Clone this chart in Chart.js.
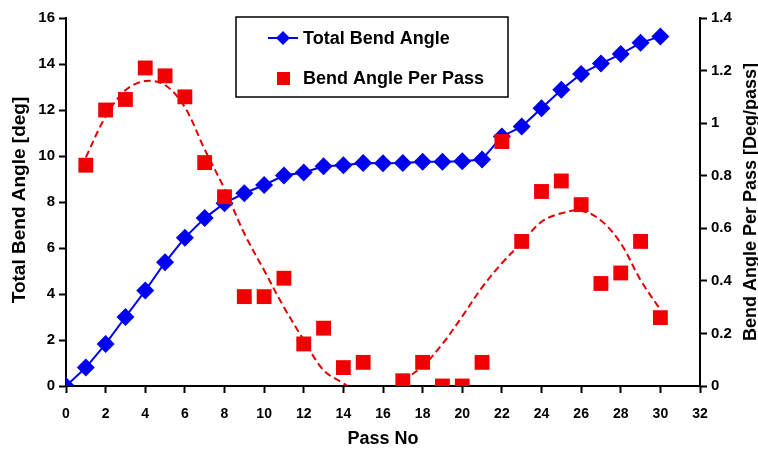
<!DOCTYPE html>
<html>
<head>
<meta charset="utf-8">
<script src="https://cdn.jsdelivr.net/npm/chart.js@4.4.1/dist/chart.umd.min.js"></script>
<style>
  html, body { margin: 0; padding: 0; background: #fff; }
  #wrap { width: 758px; height: 450px; }
</style>
</head>
<body>
<div id="wrap"><canvas id="bendChart" width="758" height="450"></canvas></div>
<script>
// Pass numbers
const passes = [0, 1, 2, 3, 4, 5, 6, 7, 8, 9, 10, 11, 12, 13, 14, 15, 16, 17, 18, 19, 20, 21, 22, 23, 24, 25, 26, 27, 28, 29, 30];
// Total bend angle [deg] (left axis)
const totalBend = [0, 0.8, 1.83, 3.0, 4.15, 5.38, 6.45, 7.3, 7.95, 8.38, 8.74, 9.15, 9.28, 9.55, 9.6, 9.7, 9.68, 9.7, 9.75, 9.75, 9.77, 9.85, 10.85, 11.28, 12.08, 12.88, 13.57, 14.02, 14.43, 14.92, 15.2];

// Bend angle per pass [deg/pass] (right axis)
const perPassX = [1, 2, 3, 4, 5, 6, 7, 8, 9, 10, 11, 12, 13, 14, 15, 17, 18, 19, 20, 21, 22, 23, 24, 25, 26, 27, 28, 29, 30];
const perPass = [0.84, 1.05, 1.09, 1.21, 1.18, 1.10, 0.85, 0.72, 0.34, 0.34, 0.41, 0.16, 0.22, 0.07, 0.09, 0.02, 0.09, 0, 0, 0.09, 0.93, 0.55, 0.74, 0.78, 0.69, 0.39, 0.43, 0.55, 0.26];

// dashed trend of per-pass angle (gap between the two humps)
const trendX = [1, 2, 3, 4, 5, 6, 7, 8, 9, 10, 11, 12, 13, 14, 14.2, 15.5, 17, 18, 19, 20, 21, 22, 23, 24, 25, 26, 27, 28, 29, 30];
const trendY = [0.87, 1.025, 1.125, 1.16, 1.145, 1.06, 0.90, 0.75, 0.58, 0.44, 0.30, 0.175, 0.06, 0.01, 0, null, 0.02, 0.075, 0.16, 0.265, 0.375, 0.467, 0.545, 0.625, 0.657, 0.667, 0.63, 0.543, 0.403, 0.29];

// axis ticks
const xTicks = [0, 2, 4, 6, 8, 10, 12, 14, 16, 18, 20, 22, 24, 26, 28, 30, 32];
const leftTicks = [0, 2, 4, 6, 8, 10, 12, 14, 16];
const rightTicks = [0, 0.2, 0.4, 0.6, 0.8, 1, 1.2, 1.4];

const BLUE = '#0000f0';
const RED = '#f00000';
const FONT = "'Liberation Sans', Arial, sans-serif";

const toPts = (xs, ys) => xs.map((x, i) => ({x: x, y: ys[i]}));

// legend box inside the plot + both vertical axis titles (both read bottom-to-top)
const boxLegend = {
    id: 'boxLegend',
    afterDraw(chart) {
        const c = chart.ctx;
        const area = chart.chartArea;
        const midY = (area.top + area.bottom) / 2;
        c.save();
        c.strokeStyle = '#000';
        c.lineWidth = 1.5;
        c.strokeRect(236, 17, 272, 80);
        // line + diamond
        c.strokeStyle = BLUE;
        c.lineWidth = 2;
        c.beginPath();
        c.moveTo(268, 38);
        c.lineTo(298, 38);
        c.stroke();
        c.fillStyle = BLUE;
        c.beginPath();
        c.moveTo(283, 31); c.lineTo(290, 38); c.lineTo(283, 45); c.lineTo(276, 38);
        c.closePath();
        c.fill();
        // square
        c.fillStyle = RED;
        c.fillRect(277, 72, 13, 13);
        c.fillStyle = '#000';
        c.font = 'bold 18px ' + FONT;
        c.textBaseline = 'middle';
        c.fillText('Total Bend Angle', 303, 39);
        c.fillText('Bend Angle Per Pass', 303, 79);

        // axis titles
        c.textAlign = 'center';
        c.font = 'bold 19px ' + FONT;
        c.save();
        c.translate(20, midY - 2);
        c.rotate(-Math.PI / 2);
        c.fillText('Total Bend Angle [deg]', 0, 0);
        c.restore();
        c.font = 'bold 18px ' + FONT;
        c.save();
        c.translate(751, midY);
        c.rotate(-Math.PI / 2);
        c.fillText('Bend Angle Per Pass [Deg/pass]', 0, 0);
        c.restore();
        c.restore();
    }
};

const ctx = document.getElementById('bendChart').getContext('2d');
new Chart(ctx, {
    type: 'scatter',
    data: {
        datasets: [
            {
                label: 'Bend Angle Per Pass',
                data: toPts(perPassX, perPass),
                yAxisID: 'y2',
                pointStyle: 'rect',
                pointRadius: 10.5,
                backgroundColor: RED,
                borderWidth: 0,
                showLine: false
            },
            {
                label: 'trend',
                data: toPts(trendX, trendY),
                yAxisID: 'y2',
                showLine: true,
                borderColor: '#e00000',
                borderWidth: 2,
                borderDash: [7, 4],
                tension: 0.35,
                pointRadius: 0,
                spanGaps: false
            },
            {
                label: 'Total Bend Angle',
                data: toPts(passes, totalBend),
                yAxisID: 'y',
                showLine: true,
                borderColor: BLUE,
                borderWidth: 2,
                backgroundColor: BLUE,
                pointStyle: 'rectRot',
                pointRadius: 9,
                pointBorderWidth: 0,
                tension: 0
            }
        ]
    },
    options: {
        responsive: false,
        animation: false,
        layout: { padding: { top: 18, left: 0, right: 0, bottom: 0 } },
        plugins: {
            legend: { display: false },
            tooltip: { enabled: false }
        },
        scales: {
            x: {
                type: 'linear',
                min: 0,
                max: 32,
                afterBuildTicks: s => { s.ticks = xTicks.map(v => ({value: v})); },
                grid: { drawOnChartArea: false, color: '#000', tickLength: 7, tickWidth: 2 },
                border: { color: '#000', width: 2 },
                ticks: { color: '#000', font: { family: FONT, size: 14, weight: 'bold' }, padding: 13, maxRotation: 0 },
                title: { display: true, text: 'Pass No', color: '#000', font: { family: FONT, size: 18, weight: 'bold' }, padding: { top: 0, bottom: 0 } },
                afterFit: s => { s.height = 64; }
            },
            y: {
                position: 'left',
                min: 0,
                max: 16,
                afterBuildTicks: s => { s.ticks = leftTicks.map(v => ({value: v})); },
                grid: { drawOnChartArea: false, color: '#000', tickLength: 7, tickWidth: 2 },
                border: { color: '#000', width: 2 },
                ticks: { color: '#000', font: { family: FONT, size: 15, weight: 'bold' }, padding: 4 },
                afterFit: s => { s.width = 66; }
            },
            y2: {
                position: 'right',
                min: 0,
                max: 1.4,
                afterBuildTicks: s => { s.ticks = rightTicks.map(v => ({value: v})); },
                grid: { drawOnChartArea: false, color: '#000', tickLength: 7, tickWidth: 2 },
                border: { color: '#000', width: 2 },
                ticks: { color: '#000', font: { family: FONT, size: 15, weight: 'bold' }, padding: 4,
                         callback: v => String(+v.toFixed(1)) },
                afterFit: s => { s.width = 58; }
            }
        }
    },
    plugins: [boxLegend]
});
</script>
</body>
</html>
